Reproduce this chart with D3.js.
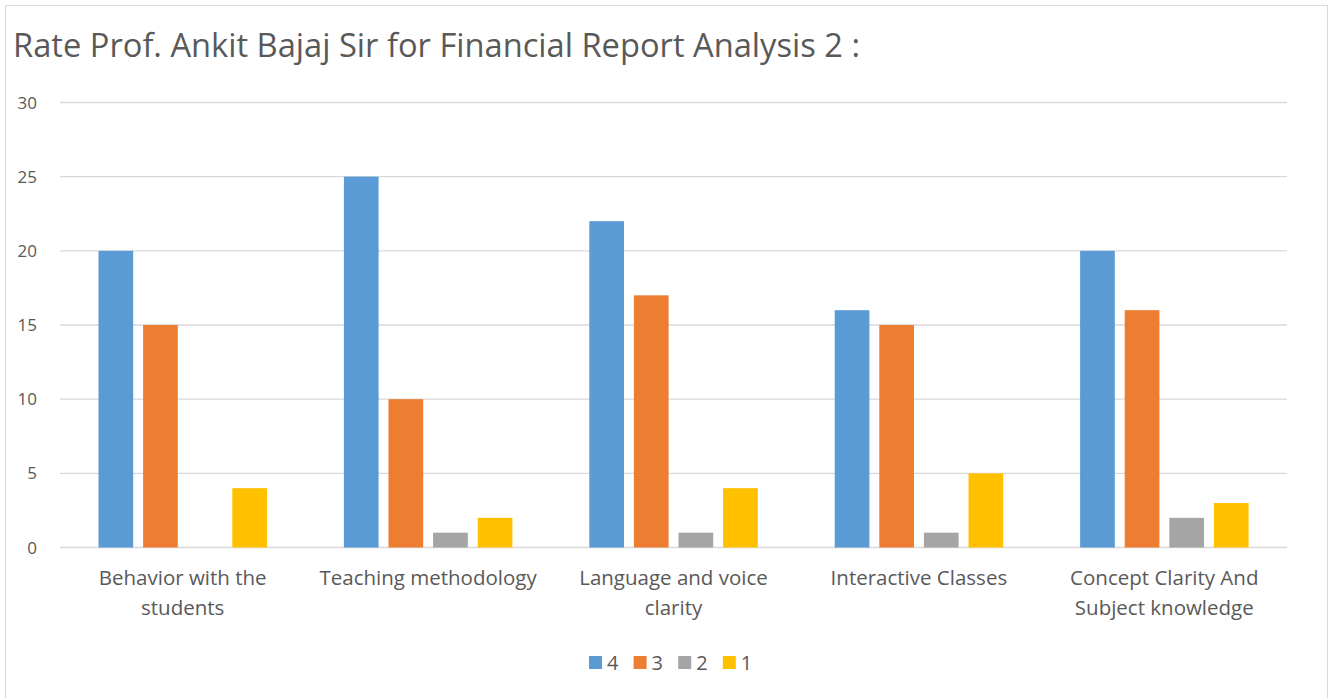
<!DOCTYPE html>
<meta charset="utf-8">
<style>
body {margin: 0; background: #fff;}
text {font-family: "Open Sans", sans-serif; fill: #595959;}
.grid line {stroke: #d9d9d9; stroke-width: 1.3;}
</style>
<html>
<body>
<script src="https://d3js.org/d3.v7.min.js"></script>
<script>
var width = 1331,
    height = 698;

var categories = [["Behavior with the", "students"], ["Teaching methodology"], ["Language and voice", "clarity"], ["Interactive Classes"], ["Concept Clarity And", "Subject knowledge"]];
var seriesNames = ["4", "3", "2", "1"];
var s4 = [20, 25, 22, 16, 20];
var s3 = [15, 10, 17, 15, 16];
var s2 = [0, 1, 1, 1, 2];
var s1 = [4, 2, 4, 5, 3];
var yTicks = [0, 5, 10, 15, 20, 25, 30];
var colors = ["#5b9bd5", "#ed7d31", "#a5a5a5", "#ffc000"];

var series = [s4, s3, s2, s1];

var svg = d3.select("body").append("svg")
    .attr("width", width)
    .attr("height", height);

// chart frame
svg.append("rect")
    .attr("x", 5.5).attr("y", 5.5)
    .attr("width", 1322).attr("height", 700)
    .attr("fill", "#fff")
    .attr("stroke", "#d9d9d9");

svg.append("text")
    .attr("x", 13).attr("y", 57)
    .style("font-size", "32px")
    .attr("textLength", 847)
    .attr("lengthAdjust", "spacingAndGlyphs")
    .text("Rate Prof. Ankit Bajaj Sir for Financial Report Analysis 2 :");

var x0 = d3.scaleBand()
    .domain(d3.range(categories.length))
    .range([60, 1287]);

var x1 = d3.scaleBand()
    .domain(d3.range(seriesNames.length))
    .range([38.5, 207])
    .paddingInner(0.222);

var y = d3.scaleLinear()
    .domain([0, 30])
    .range([547.5, 102.5]);

// gridlines
svg.append("g").attr("class", "grid")
    .selectAll("line")
    .data(yTicks)
    .enter().append("line")
    .attr("x1", 60).attr("x2", 1287)
    .attr("y1", function(d) { return y(d); })
    .attr("y2", function(d) { return y(d); });

svg.append("g")
    .selectAll("text")
    .data(yTicks)
    .enter().append("text")
    .attr("x", 37)
    .attr("y", function(d) { return y(d) + 6; })
    .attr("text-anchor", "end")
    .style("font-size", "17px")
    .text(function(d) { return d; });

// bars
var groups = svg.append("g")
    .selectAll("g")
    .data(categories)
    .enter().append("g")
    .attr("transform", function(d, i) { return "translate(" + x0(i) + ",0)"; });

groups.selectAll("rect")
    .data(function(d, i) { return series.map(function(s, j) { return {j: j, v: s[i]}; }); })
    .enter().append("rect")
    .attr("x", function(d) { return x1(d.j); })
    .attr("width", x1.bandwidth())
    .attr("y", function(d) { return y(d.v); })
    .attr("height", function(d) { return y(0) - y(d.v); })
    .attr("fill", function(d) { return colors[d.j]; });

// category labels
groups.append("text")
    .attr("x", x0.bandwidth() / 2)
    .attr("text-anchor", "middle")
    .style("font-size", "20.5px")
    .selectAll("tspan")
    .data(function(d) { return d; })
    .enter().append("tspan")
    .attr("x", x0.bandwidth() / 2)
    .attr("y", function(d, i) { return 585 + i * 30; })
    .text(function(d) { return d; });

// legend
var legend = svg.append("g")
    .selectAll("g")
    .data(seriesNames)
    .enter().append("g")
    .attr("transform", function(d, i) { return "translate(" + (589 + i * 44.6) + ",656)"; });

legend.append("rect")
    .attr("width", 13).attr("height", 13)
    .attr("fill", function(d, i) { return colors[i]; });

legend.append("text")
    .attr("x", 18).attr("y", 14)
    .style("font-size", "20px")
    .text(function(d) { return d; });
</script>
</body>
</html>
